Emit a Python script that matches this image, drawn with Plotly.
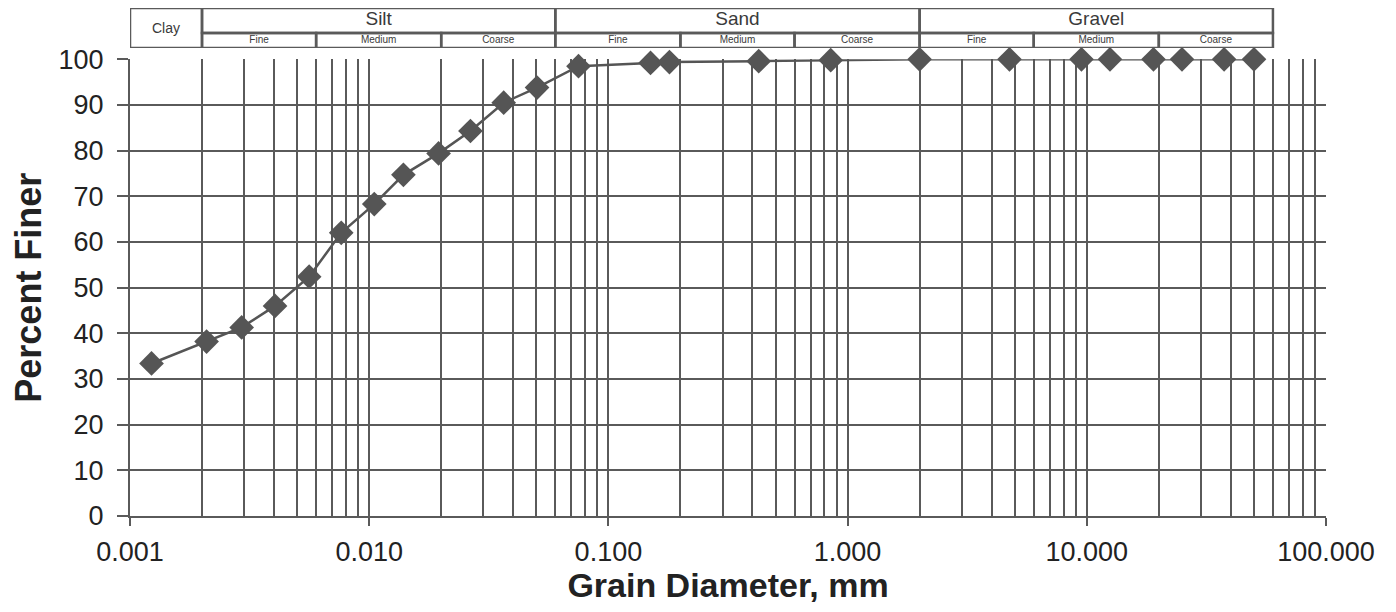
import plotly.graph_objects as go

# ---- data ----
diameter_mm = [0.00123, 0.00209, 0.00293, 0.00404, 0.00561, 0.00764, 0.0105, 0.0139,
               0.0195, 0.0265, 0.0365, 0.0503, 0.075, 0.150, 0.180, 0.425, 0.85,
               2.0, 4.75, 9.5, 12.5, 19.0, 25.0, 37.5, 50.0]
percent_finer = [33.4, 38.2, 41.3, 46.0, 52.4, 62.0, 68.3, 74.7,
                 79.4, 84.3, 90.5, 93.8, 98.5, 99.2, 99.4, 99.6, 99.8,
                 100, 100, 100, 100, 100, 100, 100, 100]

x_tick_vals = [0.001, 0.01, 0.1, 1, 10, 100]
x_tick_text = ["0.001", "0.010", "0.100", "1.000", "10.000", "100.000"]

main_classes = ["Clay", "Silt", "Sand", "Gravel"]
main_bounds = [0.001, 0.002, 0.06, 2.0, 60.0]
sub_classes = ["Fine", "Medium", "Coarse"] * 3
sub_bounds = [0.002, 0.006, 0.02, 0.06, 0.2, 0.6, 2.0, 6.0, 20.0, 60.0]

GRID = "#5a5a5a"
FONT = "Arial, Liberation Sans, sans-serif"
W, H = 1388, 596
L = 122
XDOM = [0, 1196 / (W - L)]

fig = go.Figure()

fig.add_trace(go.Scatter(
    x=diameter_mm, y=percent_finer, mode="lines+markers",
    line=dict(color="#555555", width=2.5),
    marker=dict(symbol="diamond", size=19, color="#555555"),
    showlegend=False, hoverinfo="x+y", cliponaxis=False))

# ---- header (classification bar) ----
DIV = 0.375
shapes = []
shapes.append(dict(type="rect", xref="x2", yref="y2", x0=main_bounds[0], x1=main_bounds[1],
                   y0=0, y1=1, line=dict(color=GRID, width=2.5)))
for i in range(1, len(main_classes)):
    shapes.append(dict(type="rect", xref="x2", yref="y2", x0=main_bounds[i], x1=main_bounds[i + 1],
                       y0=DIV, y1=1, line=dict(color=GRID, width=2.5)))
for i in range(len(sub_classes)):
    shapes.append(dict(type="rect", xref="x2", yref="y2", x0=sub_bounds[i], x1=sub_bounds[i + 1],
                       y0=0, y1=DIV, line=dict(color=GRID, width=2.5)))
# scan artefact bar at right edge
shapes.append(dict(type="rect", xref="paper", yref="paper", x0=(1381 - L) / (W - L), x1=1.0,
                   y0=-0.25, y1=1.02, fillcolor="#2b2b2b", line=dict(width=0), layer="above"))

main_x = [(main_bounds[i] * main_bounds[i + 1]) ** 0.5 for i in range(len(main_classes))]
main_y = [0.45] + [(DIV + 1) / 2] * (len(main_classes) - 1)
main_size = [14] + [19] * (len(main_classes) - 1)
fig.add_trace(go.Scatter(
    x=main_x, y=main_y, mode="text", text=main_classes, xaxis="x2", yaxis="y2",
    textfont=dict(family=FONT, size=main_size, color="#3a3a3a"),
    showlegend=False, hoverinfo="skip", cliponaxis=False))

sub_x = [(sub_bounds[i] * sub_bounds[i + 1]) ** 0.5 for i in range(len(sub_classes))]
fig.add_trace(go.Scatter(
    x=sub_x, y=[DIV / 2] * len(sub_classes), mode="text", text=sub_classes, xaxis="x2", yaxis="y2",
    textfont=dict(family=FONT, size=10, color="#3a3a3a"),
    showlegend=False, hoverinfo="skip", cliponaxis=False))

fig.update_layout(
    width=W, height=H,
    margin=dict(l=L, r=0, t=0, b=88, autoexpand=False),
    paper_bgcolor="white", plot_bgcolor="white",
    font=dict(family=FONT, color="#222222"),
    shapes=shapes,
    xaxis=dict(
        type="log", range=[-3, 2], tickvals=x_tick_vals, ticktext=x_tick_text, domain=XDOM,
        showgrid=True, gridcolor=GRID, gridwidth=2, automargin=False,
        minor=dict(dtick="D1", showgrid=True, gridcolor=GRID, gridwidth=2, ticks=""),
        ticks="outside", ticklen=8, tickcolor=GRID, tickwidth=2,
        tickfont=dict(size=27, color="#222222"), ticklabelstandoff=3,
        showline=True, linecolor=GRID, linewidth=2, mirror=False, zeroline=False,
        title=dict(text="<b>Grain Diameter, mm</b>", font=dict(size=34, color="#222222"), standoff=11),
        anchor="y"),
    yaxis=dict(
        range=[0, 100], dtick=10, domain=[0, 0.899], automargin=False,
        showgrid=True, gridcolor=GRID, gridwidth=2,
        ticks="outside", ticklen=11, tickcolor=GRID, tickwidth=2,
        tickfont=dict(size=27, color="#222222"), ticklabelstandoff=8,
        showline=True, linecolor=GRID, linewidth=2, zeroline=False,
        title=dict(text="<b>Percent Finer</b>", font=dict(size=36, color="#222222"), standoff=11)),
    xaxis2=dict(type="log", range=[-3, 2], matches="x", anchor="y2", visible=False, domain=XDOM,
                showgrid=False, automargin=False),
    yaxis2=dict(domain=[0.9213, 1.0], range=[0, 1], visible=False, anchor="x2",
                fixedrange=True, automargin=False),
)

fig.write_html("out.html")
